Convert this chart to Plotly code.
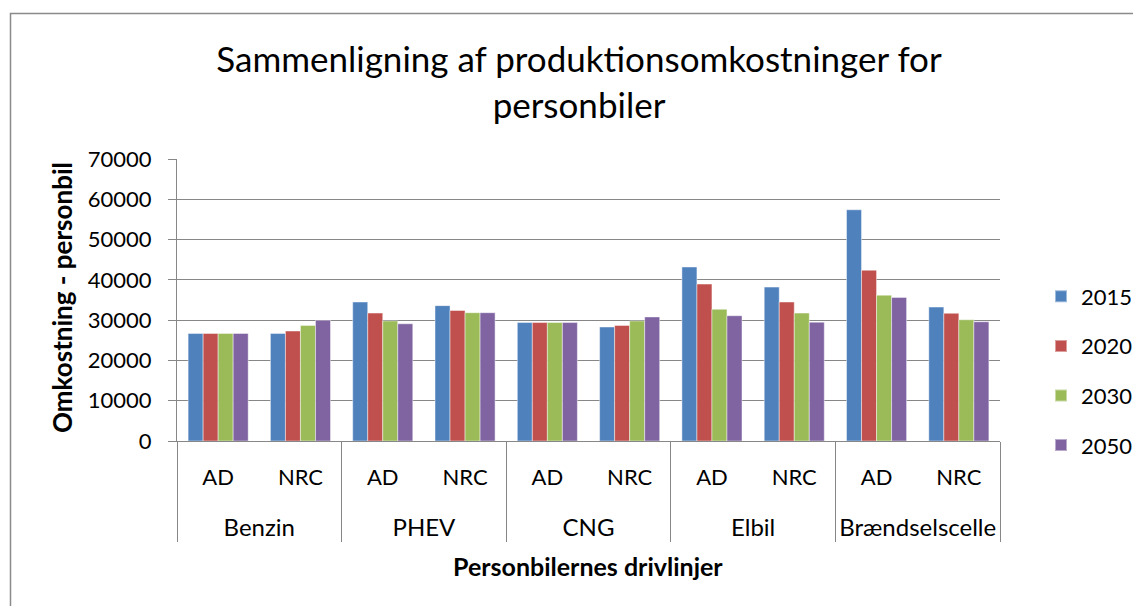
import plotly.graph_objects as go

groups = ["Benzin", "Benzin", "PHEV", "PHEV", "CNG", "CNG", "Elbil", "Elbil", "Brændselscelle", "Brændselscelle"]
subcats = ["AD", "NRC", "AD", "NRC", "AD", "NRC", "AD", "NRC", "AD", "NRC"]

years = ["2015", "2020", "2030", "2050"]
v2015 = [26700, 26700, 34500, 33600, 29400, 28300, 43200, 38200, 57400, 33250]
v2020 = [26700, 27300, 31750, 32400, 29400, 28700, 38950, 34500, 42400, 31700]
v2030 = [26700, 28700, 29800, 31850, 29400, 29800, 32700, 31750, 36200, 30100]
v2050 = [26700, 30000, 29100, 31850, 29400, 30800, 31100, 29500, 35650, 29600]
series = [v2015, v2020, v2030, v2050]
colors = ["#4F81BD", "#C0504D", "#9BBB59", "#8064A2"]

FONT = "Lato"
GRID = "#878787"

# label text sizes are set inside the labels; the axis font size sets the level spacing
sub_labels = ["<span style='font-size:22px'>" + s + "</span>" for s in subcats]
group_labels = ["<br><span style='font-size:24px'>" + g + "</span>" for g in groups]

fig = go.Figure()
for yr, vals, col in zip(years, series, colors):
    fig.add_trace(go.Bar(
        x=[group_labels, sub_labels], y=vals, name=yr,
        marker=dict(color=col, line=dict(color="rgba(255,255,255,0.45)", width=1)),
        legendgroup=yr,
    ))

L, R, T, B = 177, 1000, 159, 441
W, H = 1133, 606
pw, ph = R - L, B - T

def px(x):
    return (x - L) / pw

def py(y):
    return (B - y) / ph

fig.update_layout(
    width=W, height=H,
    margin=dict(l=L, r=W - R, t=T, b=H - B, pad=0, autoexpand=False),
    paper_bgcolor="white", plot_bgcolor="white",
    font=dict(family=FONT, size=22, color="#000000"),
    barmode="group", bargap=0.27, bargroupgap=0,
    showlegend=True,
    legend=dict(x=px(1041), xanchor="left", y=py(371), yanchor="middle",
                font=dict(size=22), tracegroupgap=18, itemsizing="constant",
                bgcolor="rgba(0,0,0,0)"),
    title=dict(text="Sammenligning af produktionsomkostninger for<br>personbiler",
               font=dict(size=35, family=FONT), xref="paper", x=px(579), xanchor="center",
               yref="container", y=1 - 72 / H, yanchor="middle"),
    yaxis=dict(range=[0, 70000], dtick=10000, showgrid=True, gridcolor=GRID, gridwidth=1,
               showline=True, linecolor=GRID, linewidth=1, ticks="outside", ticklen=8,
               tickcolor=GRID, tickformat="d", tickfont=dict(size=22), ticklabelstandoff=12,
               zeroline=False),
    xaxis=dict(type="multicategory", showline=True, linecolor=GRID, linewidth=1,
               showdividers=True, dividercolor=GRID, dividerwidth=1,
               tickfont=dict(size=26), ticks="", showgrid=False, ticklabelstandoff=12),
    shapes=[dict(type="rect", xref="paper", yref="paper",
                 x0=px(10.5), x1=px(1200), y0=py(700), y1=py(13.5),
                 line=dict(color="#8a8a8a", width=1.5), fillcolor="rgba(0,0,0,0)", layer="below")],
    annotations=[
        dict(text="<b>Omkostning - personbil</b>", xref="paper", yref="paper",
             x=px(62), y=py(298), textangle=-90, showarrow=False,
             font=dict(size=26, family=FONT), xanchor="center", yanchor="middle"),
        dict(text="<b>Personbilernes drivlinjer</b>", xref="paper", yref="paper",
             x=px(588), y=py(566), showarrow=False,
             font=dict(size=25, family=FONT), xanchor="center", yanchor="middle"),
    ],
)

fig.write_html("out.html", config={"displayModeBar": False},
               post_script="document.body.style.margin='0';")
